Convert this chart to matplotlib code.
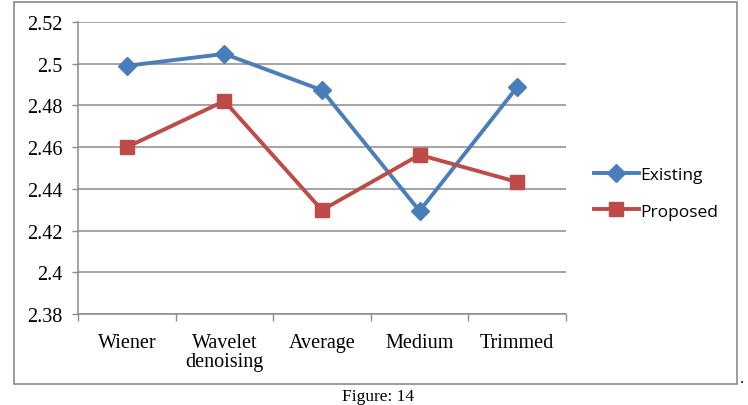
import matplotlib
matplotlib.use("Agg")
import matplotlib.pyplot as plt
from matplotlib.patches import Rectangle

# data
categories = ["Wiener", "Wavelet\ndenoising", "Average", "Medium", "Trimmed"]
existing = [2.499, 2.5047, 2.4873, 2.4294, 2.4888]
proposed = [2.460, 2.4821, 2.4298, 2.4563, 2.4433]
yticks = [2.38, 2.40, 2.42, 2.44, 2.46, 2.48, 2.50, 2.52]
ytick_labels = ["2.38", "2.4", "2.42", "2.44", "2.46", "2.48", "2.5", "2.52"]

BLUE = "#4A7EBB"
RED = "#BE4B48"
GRID = "#8C8C8C"

fig = plt.figure(figsize=(7.48, 4.06), dpi=100)
ax = fig.add_axes([78 / 748, 1 - 315 / 406, (566 - 78) / 748, (315 - 23) / 406])

x = list(range(len(categories)))
ax.plot(x, existing, color=BLUE, lw=2.8, marker="D", markersize=9.5,
        label="Existing", zorder=3)
ax.plot(x, proposed, color=RED, lw=2.8, marker="s", markersize=10,
        label="Proposed", zorder=3)

ax.set_xlim(-0.5, len(categories) - 0.5)
ax.set_ylim(2.38, 2.52)
ax.set_yticks(yticks)
ax.set_yticklabels(ytick_labels, family="Liberation Serif", fontsize=14.5)
ax.yaxis.grid(True, color=GRID, lw=1.1)
ax.set_axisbelow(True)

# category labels between boundary ticks
ax.set_xticks([i - 0.5 for i in range(len(categories) + 1)])
ax.set_xticklabels([])
ax.set_xticks(x, minor=True)
ax.set_xticklabels(categories, minor=True, family="Liberation Serif",
                   fontsize=14.5, linespacing=1.0)
ax.tick_params(axis="x", which="minor", length=0, pad=14)
ax.tick_params(axis="x", which="major", length=5, color=GRID, width=1)
ax.tick_params(axis="y", length=4, color=GRID, width=1, pad=7)

for side in ["top", "right"]:
    ax.spines[side].set_visible(False)
for side in ["left", "bottom"]:
    ax.spines[side].set_color(GRID)
    ax.spines[side].set_linewidth(1.1)

leg = fig.legend(loc="center left", bbox_to_anchor=(578 / 748, 1 - 194 / 406),
                 frameon=False, handlelength=2.6, handletextpad=0.1,
                 labelspacing=1.2, prop={"family": "Open Sans", "size": 12.5})

# outer frame, trailing dot and caption
fig.patches.append(Rectangle((14 / 748, 1 - 385 / 406), (737 - 14) / 748,
                             (385 - 3) / 406, transform=fig.transFigure,
                             fill=False, edgecolor="#8A8A8A", lw=1.2))
fig.text(740 / 748, 1 - 383 / 406, ".", fontsize=12, ha="left", va="baseline",
         family="Liberation Serif")
fig.text(378 / 748, 1 - 389 / 406, "Figure: 14", fontsize=12.5, ha="center",
         va="top", family="Liberation Serif")

fig.savefig("out.png", dpi=100)
